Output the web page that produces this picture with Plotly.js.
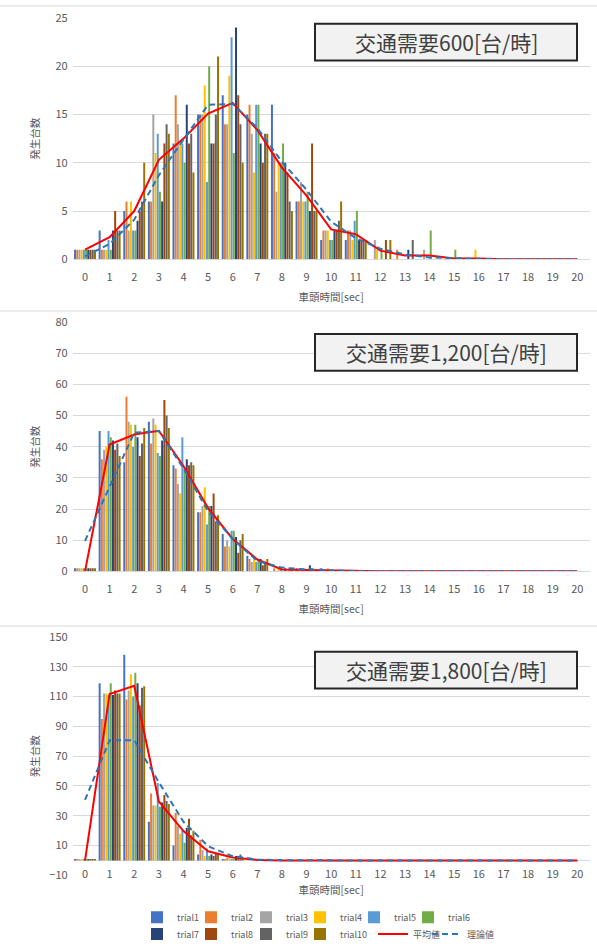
<!DOCTYPE html>
<html>
<head>
<meta charset="utf-8">
<script src="https://cdn.plot.ly/plotly-3.0.1.min.js"></script>
<style>
  html, body { margin: 0; padding: 0; background: #ffffff; }
  #chart { width: 597px; height: 949px; }
</style>
</head>
<body>
<div id="chart"></div>
<script>
// Headway classes [sec] shared by all three demand levels
const headways = [0,1,2,3,4,5,6,7,8,9,10,11,12,13,14,15,16,17,18,19,20];

const trialNames = ['trial1','trial2','trial3','trial4','trial5','trial6','trial7','trial8','trial9','trial10'];
const trialColors = ['#4472c4','#ed7d31','#a5a5a5','#ffc000','#5b9bd5','#70ad47','#264478','#9e480e','#636363','#997300'];

// Demand 600 veh/h : vehicle counts per headway class, one row per trial
const counts600 = [
  [1,3,5,6,12,15,17,15,16,6,2,2,0,0,0,0,0,0,0,0,0],
  [1,1,6,6,17,15,14,16,11,6,3,3,0,1,0,0,0,0,0,0,0],
  [1,1,3,15,14,15,14,13,7,8,3,3,2,0,1,0,0,0,0,0,0],
  [1,1,6,11,12,18,19,9,10,6,3,2,1,0,0,0,1,0,0,0,0],
  [1,2,3,13,12,8,23,16,10,6,2,4,0,0,0,0,0,0,0,0,0],
  [1,1,3,7,10,20,11,16,12,7,2,5,1,0,3,1,0,0,0,0,0],
  [1,3,4,6,16,12,24,12,10,5,3,2,0,1,0,0,0,0,0,0,0],
  [1,5,5,12,12,12,17,10,9,12,3,2,2,0,0,0,0,0,0,0,0],
  [1,3,6,14,13,15,14,13,6,5,4,2,0,2,0,0,0,0,0,0,0],
  [1,3,10,13,9,21,10,13,5,5,6,2,2,0,0,0,0,0,0,0,0]
];
const mean600   = [1.0,2.3,5.0,10.3,12.5,15.1,16.2,13.4,9.5,6.6,3.1,2.6,0.9,0.4,0.4,0.1,0.1,0,0,0,0];
const theory600 = [0.3,1.6,4.1,8.7,12.4,16.0,16.1,13.6,10.1,7.2,3.9,2.2,1.1,0.5,0.2,0.1,0.05,0,0,0,0];

// Demand 1,200 veh/h
const counts1200 = [
  [1,45,35,48,34,19,12,5,0,1,1,0,0,0,0,0,0,0,0,0,0],
  [1,36,56,41,33,19,8,4,1,0,0,0,0,0,0,0,0,0,0,0,0],
  [1,39,48,49,28,21,10,3,0,0,0,0,0,0,0,0,0,0,0,0,0],
  [1,40,47,47,25,27,8,4,1,0,1,0,0,0,0,0,0,0,0,0,0],
  [1,45,40,38,43,15,13,3,1,0,0,0,0,0,0,0,0,0,0,0,0],
  [1,43,47,37,33,21,13,4,0,0,0,0,0,0,0,0,0,0,0,0,0],
  [1,42,43,42,36,21,11,4,1,2,0,0,0,0,0,0,0,0,0,0,0],
  [1,39,37,55,34,25,6,2,0,1,0,0,0,0,0,0,0,0,0,0,0],
  [1,41,41,50,35,16,10,3,1,0,0,0,0,0,0,0,0,0,0,0,0],
  [1,37,46,46,34,18,12,4,1,0,0,0,0,0,0,0,0,0,0,0,0]
];
const mean1200   = [0,40.7,43.9,45.1,33.8,20.3,10.4,3.8,0.6,0.4,0.2,0,0,0,0,0,0,0,0,0,0];
const theory1200 = [9.8,27.0,44.5,45.0,33.0,19.3,10.4,3.3,1.2,0.6,0.3,0.1,0,0,0,0,0,0,0,0,0];

// Demand 1,800 veh/h
const counts1800 = [
  [1,119,138,26,10,4,1,0,0,0,0,0,0,0,0,0,0,0,0,0,0],
  [1,95,108,45,32,14,1,0,0,0,0,0,0,0,0,0,0,0,0,0,0],
  [1,112,114,37,23,7,2,0,0,0,0,0,0,0,0,0,0,0,0,0,0],
  [1,112,125,37,18,3,2,0,0,0,0,0,0,0,0,0,0,0,0,0,0],
  [1,111,110,52,20,8,1,0,1,0,0,0,0,0,0,0,0,0,0,0,0],
  [1,119,126,36,12,3,1,0,0,0,0,0,0,0,0,0,0,0,0,0,0],
  [1,111,119,39,22,4,3,1,0,0,0,0,0,0,0,0,0,0,0,0,0],
  [1,114,104,44,28,3,2,1,0,0,0,0,0,0,0,0,0,0,0,0,0],
  [1,112,116,40,17,5,4,0,0,0,0,0,0,0,0,0,0,0,0,0,0],
  [1,112,117,38,20,5,2,1,0,0,0,0,0,0,0,0,0,0,0,0,0]
];
const mean1800   = [0,111.7,117.2,39.6,19.8,6.2,2.0,0.4,0.1,0,0,0,0,0,0,0,0,0,0,0,0];
const theory1800 = [40.7,80.7,80.7,52.5,26.0,9.6,2.9,0.7,0.2,0.05,0,0,0,0,0,0,0,0,0,0,0];

const panelTitles = ['交通需要600[台/時]', '交通需要1,200[台/時]', '交通需要1,800[台/時]'];
const meanName = '平均値';
const theoryName = '理論値';
const xTitle = '車頭時間[sec]';
const yTitle = '発生台数';

// ---- page geometry (pixels) ----
const W = 597, H = 949;
const py = v => 1 - v / H;          // pixel row -> paper fraction
const pxx = v => v / W;             // pixel column -> paper fraction
const FONT = '"Noto Sans CJK JP", "Noto Sans", sans-serif';
const GREY = '#595959';
const GRID = '#d9d9d9';

const panels = [
  { counts: counts600,  mean: mean600,  theory: theory600,  top: 18,  bottom: 261, zero: 261, range: [0, 25],   tick0: 0,   dtick: 5,  boxTop: 24,  boxBottom: 61,  yStand: 13, xLab: 7, xStand: 11 },
  { counts: counts1200, mean: mean1200, theory: theory1200, top: 324, bottom: 575, zero: 575, range: [0, 80],   tick0: 0,   dtick: 10, boxTop: 336, boxBottom: 373, yStand: 13, xLab: 7, xStand: 11 },
  { counts: counts1800, mean: mean1800, theory: theory1800, top: 641, bottom: 881, zero: 866, range: [-10, 150], tick0: -10, dtick: 20, boxTop: 656, boxBottom: 693, yStand: 7,  xLab: 5, xStand: 7 }
];

// legend slots: one small legend per entry, two rows under the charts
const legendRows = [923, 940];
const legendCols = [137, 191, 246, 300, 354, 408];
const lineLegendCols = [373, 427];

const data = [];
const layout = {
  width: W, height: H,
  margin: { l: 0, r: 0, t: 0, b: 0 },
  paper_bgcolor: '#ffffff',
  plot_bgcolor: '#ffffff',
  font: { family: FONT, color: GREY, size: 11 },
  barmode: 'group',
  bargap: 0.1,
  bargroupgap: 0.1,
  showlegend: true,
  shapes: [],
  annotations: []
};

const legendKey = k => (k === 1 ? 'legend' : 'legend' + k);

panels.forEach((p, i) => {
  const n = i + 1;
  const xa = 'x' + n, ya = 'y' + n;
  const xKey = n === 1 ? 'xaxis' : 'xaxis' + n;
  const yKey = n === 1 ? 'yaxis' : 'yaxis' + n;

  p.counts.forEach((row, j) => {
    data.push({
      type: 'bar',
      x: headways,
      y: row,
      name: trialNames[j],
      legendgroup: trialNames[j],
      legend: legendKey(j + 1),
      showlegend: i === 0,
      marker: { color: trialColors[j], line: { width: 0 } },
      xaxis: xa, yaxis: ya,
      hoverinfo: 'skip'
    });
  });
  data.push({
    type: 'scatter', mode: 'lines',
    x: headways, y: p.mean,
    name: meanName, legendgroup: 'mean', legend: legendKey(11),
    showlegend: i === 0,
    line: { color: '#ff0000', width: 2 },
    xaxis: xa, yaxis: ya, hoverinfo: 'skip'
  });
  data.push({
    type: 'scatter', mode: 'lines',
    x: headways, y: p.theory,
    name: theoryName, legendgroup: 'theory', legend: legendKey(12),
    showlegend: i === 0,
    line: { color: '#2e75b6', width: 2, dash: '6px,4px' },
    xaxis: xa, yaxis: ya, hoverinfo: 'skip'
  });

  layout[xKey] = {
    domain: [pxx(72.7), pxx(589.6)],
    anchor: n === 3 ? 'free' : ya,
    position: n === 3 ? py(p.zero) : undefined,
    range: [-0.5, 20.5],
    tickmode: 'linear', tick0: 0, dtick: 1,
    showgrid: false,
    zeroline: false,
    showline: n !== 3,
    linecolor: GRID, linewidth: 1,
    ticks: '',
    ticklabelstandoff: p.xLab,
    tickfont: { size: 11, color: GREY },
    title: { text: xTitle, font: { size: 10.5, color: GREY }, standoff: p.xStand },
    fixedrange: true
  };
  layout[yKey] = {
    domain: [py(p.bottom), py(p.top)],
    anchor: xa,
    range: p.range,
    tickmode: 'linear', tick0: p.tick0, dtick: p.dtick,
    showgrid: true, gridcolor: GRID, gridwidth: 1,
    zeroline: true, zerolinecolor: GRID, zerolinewidth: 1,
    showline: false,
    ticks: '',
    ticklabelstandoff: 4,
    tickfont: { size: 11, color: GREY },
    title: { text: yTitle, font: { size: 10.5, color: GREY }, standoff: p.yStand },
    fixedrange: true
  };

  // title box of each demand level
  layout.shapes.push({
    type: 'rect', xref: 'paper', yref: 'paper',
    x0: pxx(315), x1: pxx(577), y0: py(p.boxBottom), y1: py(p.boxTop),
    fillcolor: '#f2f2f2', line: { color: '#262626', width: 2 }
  });
  layout.annotations.push({
    xref: 'paper', yref: 'paper',
    x: pxx(446), y: py((p.boxTop + p.boxBottom) / 2),
    xanchor: 'center', yanchor: 'middle',
    text: panelTitles[i], showarrow: false,
    font: { family: FONT, size: 21, color: '#404040' }
  });
});

// frame lines between the three charts
[6, 313, 630].forEach(r => {
  layout.shapes.push({
    type: 'line', xref: 'paper', yref: 'paper',
    x0: 0, x1: 1, y0: py(r), y1: py(r),
    line: { color: GRID, width: 1 }
  });
});

const legendBase = {
  orientation: 'h',
  xanchor: 'left', yanchor: 'middle',
  font: { family: FONT, size: 9, color: GREY },
  bgcolor: 'rgba(0,0,0,0)',
  itemwidth: 30,
  traceorder: 'normal',
  itemclick: false, itemdoubleclick: false
};
for (let k = 1; k <= 10; k++) {
  const row = k <= 6 ? 0 : 1;
  const col = k <= 6 ? k - 1 : k - 7;
  layout[legendKey(k)] = Object.assign({}, legendBase, { x: pxx(legendCols[col]), y: py(legendRows[row]) });
}
layout[legendKey(11)] = Object.assign({}, legendBase, { x: pxx(lineLegendCols[0]), y: py(legendRows[1]) });
layout[legendKey(12)] = Object.assign({}, legendBase, { x: pxx(lineLegendCols[1]), y: py(legendRows[1]) });

Plotly.newPlot('chart', data, layout, { staticPlot: true, displayModeBar: false });
</script>
</body>
</html>
